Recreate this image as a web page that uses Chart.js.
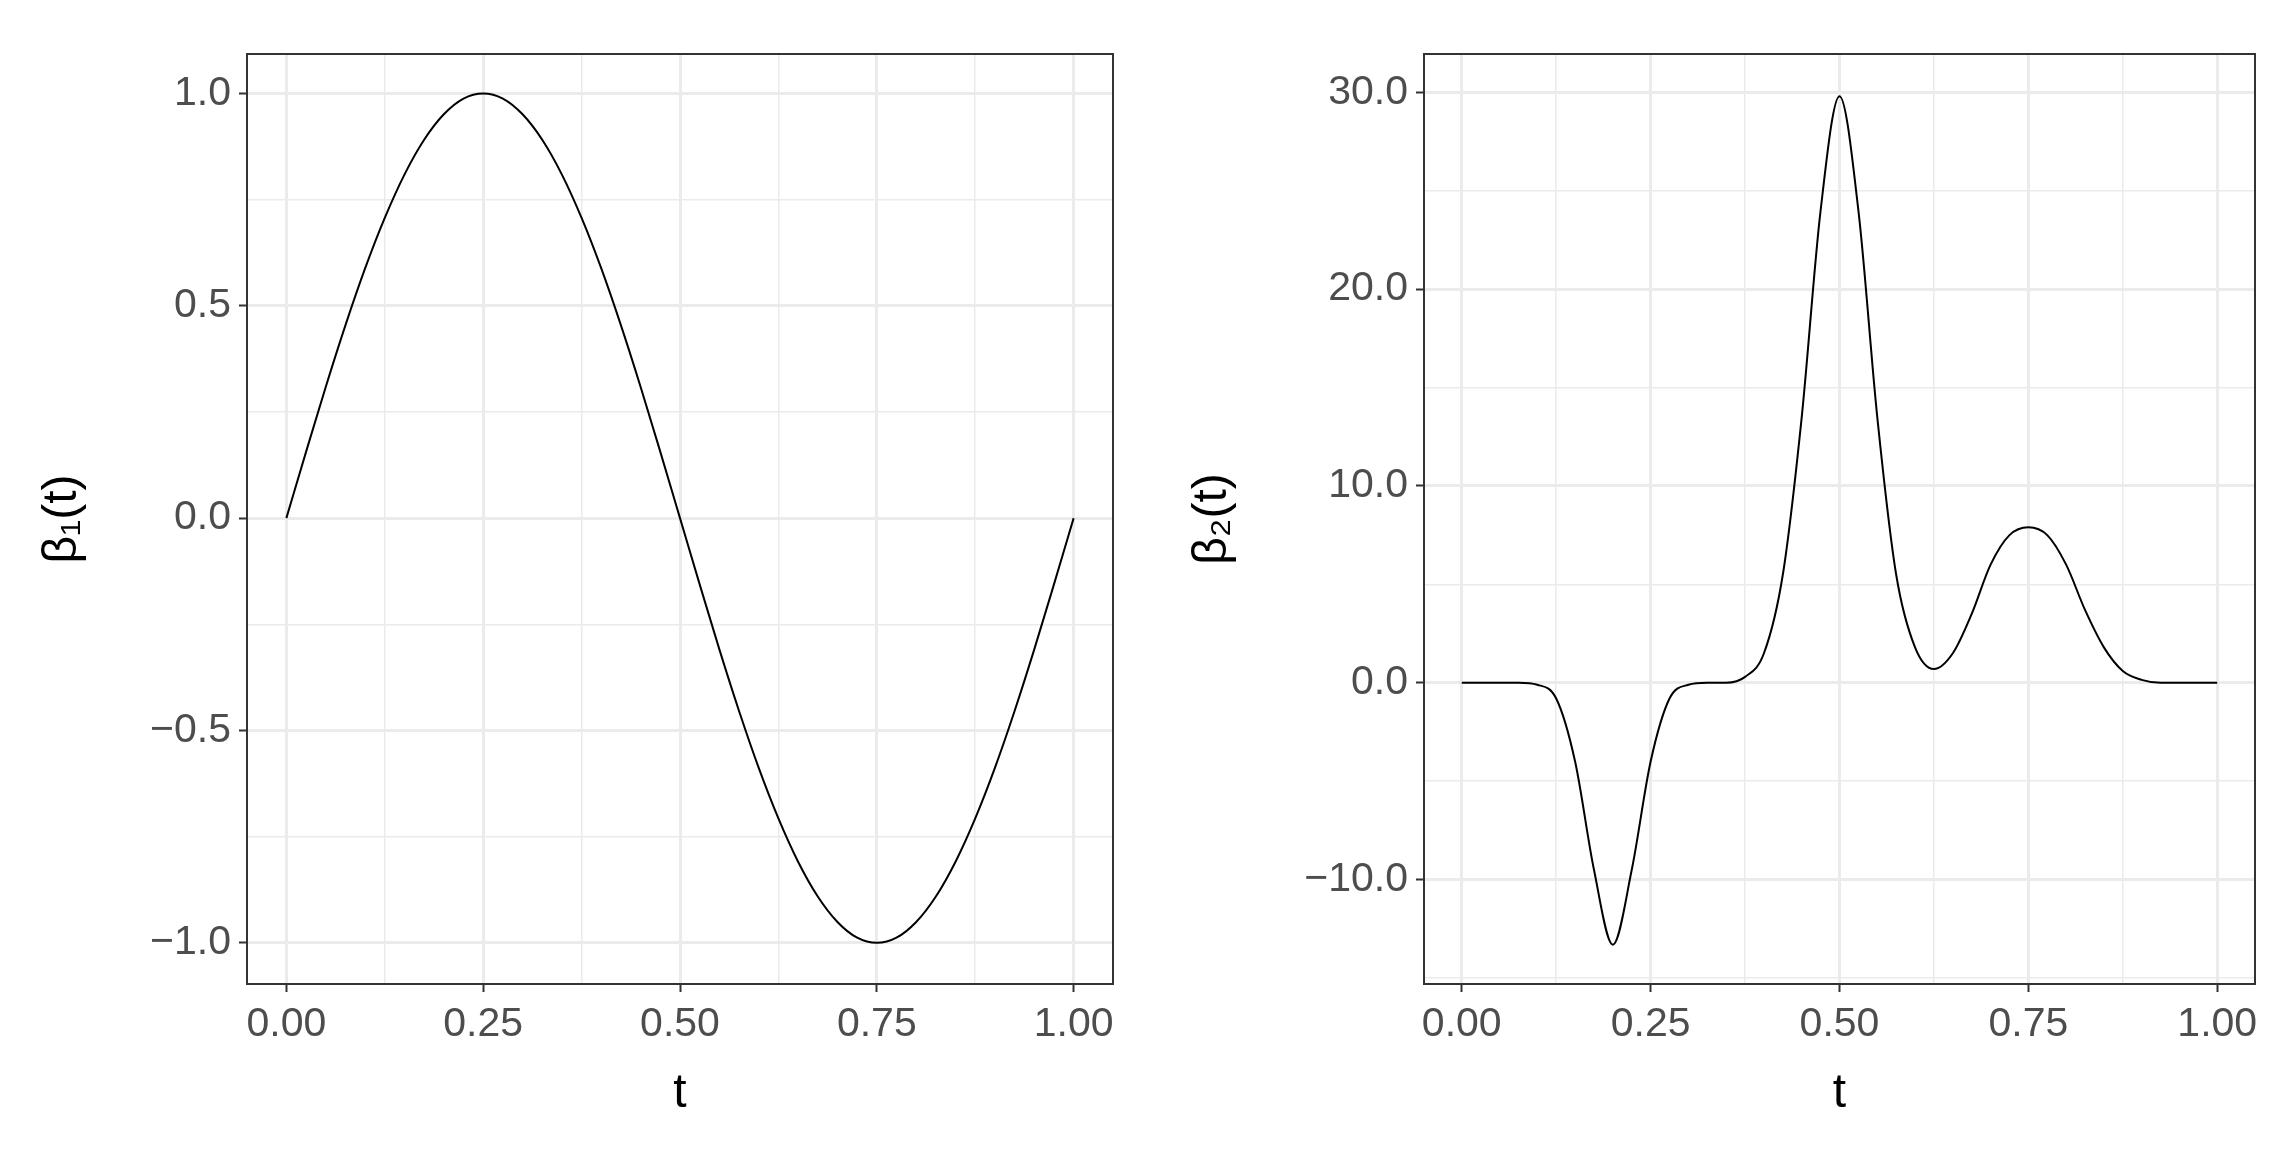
<!DOCTYPE html>
<html><head><meta charset="utf-8">
<script src="https://cdn.jsdelivr.net/npm/chart.js@4/dist/chart.umd.min.js"></script>
<style>body{margin:0;background:#fff;width:2291px;height:1153px;position:relative;overflow:hidden}
canvas{position:absolute;top:0}</style></head><body>
<div id="w1" style="position:absolute;left:0;top:0;width:1150px;height:1153px"><canvas id="c1"></canvas></div>
<div id="w2" style="position:absolute;left:1150px;top:0;width:1141px;height:1153px"><canvas id="c2"></canvas></div>
<script>
const tValues=[0,0.025,0.05,0.075,0.1,0.125,0.15,0.175,0.2,0.225,0.25,0.275,0.3,0.325,0.35,0.375,0.4,0.425,0.45,0.475,0.5,0.525,0.55,0.575,0.6,0.625,0.65,0.675,0.7,0.725,0.75,0.775,0.8,0.825,0.85,0.875,0.9,0.925,0.95,0.975,1];
const beta1=[0,0.156,0.309,0.454,0.588,0.707,0.809,0.891,0.951,0.988,1,0.988,0.951,0.891,0.809,0.707,0.588,0.454,0.309,0.156,0,-0.156,-0.309,-0.454,-0.588,-0.707,-0.809,-0.891,-0.951,-0.988,-1,-0.988,-0.951,-0.891,-0.809,-0.707,-0.588,-0.454,-0.309,-0.156,0];
const beta2=[0,0,0,0,-0.1,-0.8,-4.0,-9.5,-13.3,-9.5,-4.0,-0.8,-0.1,0,0,0.3,1.5,5.5,13.5,24,29.8,24,13.5,5.5,1.8,0.7,1.5,3.5,6.0,7.5,7.9,7.5,6.0,3.7,1.8,0.6,0.15,0,0,0,0];
const xTicks=[0,0.25,0.5,0.75,1];
const yTicks1=[-1,-0.5,0,0.5,1];
const yTicks2=[-10,0,10,20,30];

const isMajor=(v,list)=>list.some(m=>Math.abs(m-v)<1e-6);
const boxPlugin={id:'box',afterDraw(c){const a=c.chartArea,x=c.ctx;x.save();x.strokeStyle='#333';x.lineWidth=2;x.strokeRect(a.left,a.top,a.right-a.left,a.bottom-a.top);x.restore();}};
function make(id,data,label,yMin,yMax,yStep,yList,yW,padR){
  const pts=tValues.map((t,i)=>({x:t,y:data[i]}));
  new Chart(document.getElementById(id),{type:'scatter',
    data:{datasets:[{data:pts,showLine:true,borderColor:'#000',borderWidth:2,pointRadius:0,cubicInterpolationMode:'monotone'}]},
    options:{responsive:true,maintainAspectRatio:false,animation:false,
      layout:{padding:{top:54,right:padR,left:0,bottom:0}},
      plugins:{legend:{display:false},tooltip:{enabled:false}},
      scales:{
        x:{type:'linear',min:-0.05,max:1.05,
          afterFit(s){s.height=169;},
          ticks:{stepSize:0.125,includeBounds:false,autoSkip:false,maxRotation:0,color:'#4d4d4d',font:{family:'Arial, Liberation Sans',size:41},padding:8,
            callback:v=>isMajor(v,xTicks)?v.toFixed(2):''},
          grid:{color:'#ebebeb',lineWidth:c=>isMajor(c.tick.value,xTicks)?3:1.5,tickLength:8,
            tickColor:c=>isMajor(c.tick.value,xTicks)?'#333':'rgba(0,0,0,0)',tickWidth:2},
          border:{display:false},
          title:{display:true,text:'t',color:'#000',font:{family:'Arial, Liberation Sans',size:48},padding:{top:0,bottom:30}}},
        y:{type:'linear',min:yMin,max:yMax,
          afterFit(s){s.width=yW;},
          ticks:{stepSize:yStep,includeBounds:false,autoSkip:false,color:'#4d4d4d',font:{family:'Arial, Liberation Sans',size:41},padding:8,
            callback:v=>isMajor(v,yList)?(v<0?'\u2212'+Math.abs(v).toFixed(1):v.toFixed(1)):''},
          grid:{color:'#ebebeb',lineWidth:c=>isMajor(c.tick.value,yList)?3:1.5,tickLength:8,
            tickColor:c=>isMajor(c.tick.value,yList)?'#333':'rgba(0,0,0,0)',tickWidth:2},
          border:{display:false},
          title:{display:true,text:label,color:'#000',font:{family:'Arial, Liberation Sans',size:48},padding:{top:34,bottom:10}}}
      }},plugins:[boxPlugin]});
}
make('c1',beta1,'β₁(t)',-1.097,1.093,0.25,yTicks1,247,37);
make('c2',beta2,'β₂(t)',-15.3,31.94,5,yTicks2,274,36);
</script></body></html>
